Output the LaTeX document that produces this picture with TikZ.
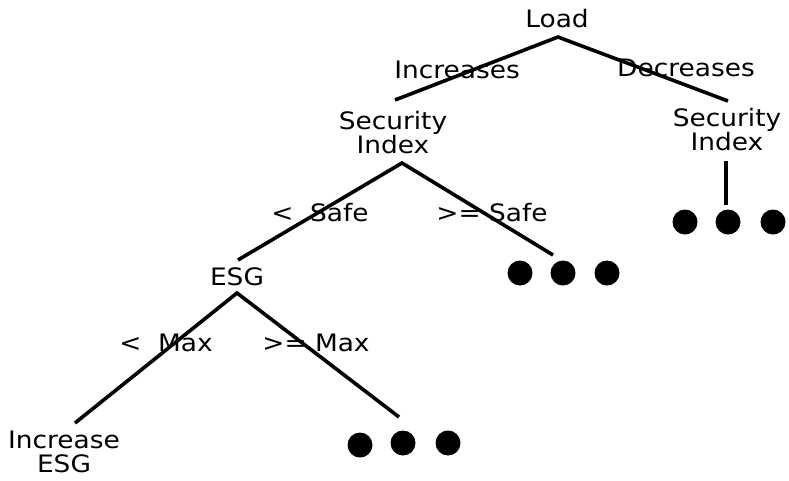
\documentclass[tikz,border=0pt]{standalone}
\usepackage{fontspec}
\setmainfont{DejaVu Sans}[FakeStretch=1.1]
\begin{document}
\begin{tikzpicture}[x=1pt,y=-1pt,
  lbl/.style={inner sep=0pt,font=\fontsize{24}{24}\selectfont,align=center},
  edge/.style={line width=3.6pt},
  dot/.style={circle,fill=black,inner sep=0pt,minimum size=25pt}]
\useasboundingbox (0,0) rectangle (789,480);
% nodes
\node[lbl] (load) at (557,19) {Load};
\node[lbl] (si1) at (393,133) {Security\\Index};
\node[lbl] (si2) at (727,130) {Security\\Index};
\node[lbl] (esg) at (237,277) {ESG};
\node[lbl] (inc) at (64,452) {Increase\\ESG};
% coordinates
\coordinate (a0) at (558,37);
\coordinate (l0) at (395,100);
\coordinate (r0) at (728,101);
\coordinate (a1) at (402,163);
\coordinate (l1) at (238,260);
\coordinate (r1) at (553,255);
\coordinate (v0) at (726,161);
\coordinate (v1) at (726,205);
\coordinate (a2) at (237,293);
\coordinate (l2) at (75,423);
\coordinate (r2) at (399,417);
% edges
\draw[edge] (l0) -- (a0) -- (r0);
\draw[edge] (l1) -- (a1) -- (r1);
\draw[edge] (v0) -- (v1);
\draw[edge] (l2) -- (a2) -- (r2);
% edge labels
\node[lbl] (e1) at (457,70) {Increases};
\node[lbl] (e2) at (686,68) {Decreases};
\node[lbl] (e3) at (320,213) {<\ \ Safe};
\node[lbl] (e4) at (492,213) {>=\ Safe};
\node[lbl] (e5) at (166,343) {<\ \ Max};
\node[lbl] (e6) at (316,343) {>=\ Max};
% dots
\node[dot] (d1) at (685,222) {};
\node[dot] (d2) at (728,222) {};
\node[dot] (d3) at (773,222) {};
\node[dot] (d4) at (520,273) {};
\node[dot] (d5) at (563,273) {};
\node[dot] (d6) at (607,273) {};
\node[dot] (d7) at (360,445) {};
\node[dot] (d8) at (403,443) {};
\node[dot] (d9) at (448,443) {};
\end{tikzpicture}
\end{document}
